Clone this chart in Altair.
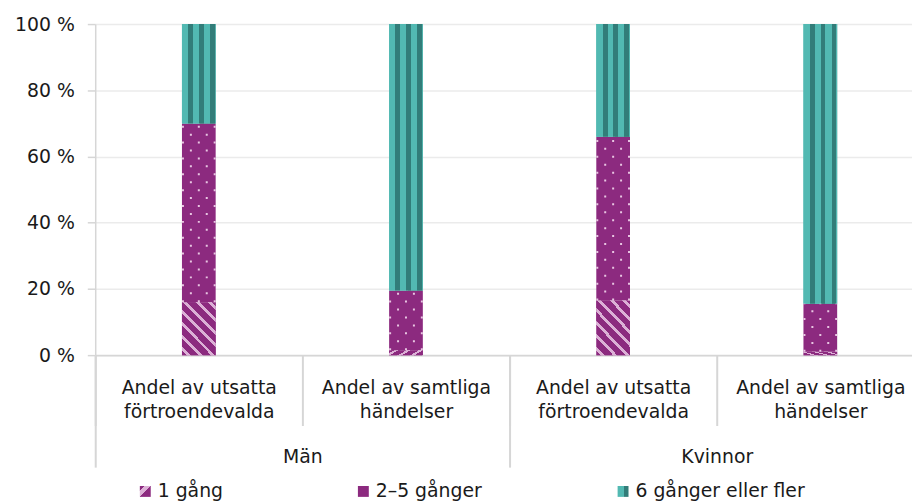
import altair as alt
import pandas as pd

# ---- data ----
groups = ["Män", "Män", "Kvinnor", "Kvinnor"]
categories = [
    "Andel av utsatta\nförtroendevalda",
    "Andel av samtliga\nhändelser",
    "Andel av utsatta\nförtroendevalda",
    "Andel av samtliga\nhändelser",
]
series = ["1 gång", "2–5 gånger", "6 gånger eller fler"]
once = [16, 1.5, 16.5, 1]
two_five = [54, 18, 49.5, 14.5]
six_plus = [30, 80.5, 34, 84.5]

rows = []
for i in range(len(groups)):
    key = groups[i] + "|" + categories[i]
    for j, vals in enumerate([once, two_five, six_plus]):
        rows.append({"key": key, "group": groups[i], "series": series[j],
                     "order": j, "value": vals[i]})
df = pd.DataFrame(rows)
keys = [g + "|" + c for g, c in zip(groups, categories)]
group_domain = list(dict.fromkeys(groups))

# ---- style ----
FONT = "DejaVu Sans"
FS = 19
MAGENTA = "#8c2a7f"
PINK = "#dcb0d6"
TEAL = "#52b9b2"
TEAL_DARK = "#327d79"
DOT = "#e8c6e2"
GRID = "#ebebeb"
AXIS = "#d6d6d6"
BAR = 34
RANGE_MAX = 836

# legend swatch gradients (also base fill under the patterns)
sw_once = (
    "{gradient: 'linear', x1: 0, y1: 0, x2: 1, y2: 1, stops: ["
    f"{{offset: 0, color: '{MAGENTA}'}}, {{offset: 0.2, color: '{MAGENTA}'}},"
    f"{{offset: 0.2, color: '{PINK}'}}, {{offset: 0.5, color: '{PINK}'}},"
    f"{{offset: 0.5, color: '{MAGENTA}'}}, {{offset: 1, color: '{MAGENTA}'}}]}}"
)
sw_six = (
    "{gradient: 'linear', x1: 0, y1: 0, x2: 1, y2: 0, stops: ["
    f"{{offset: 0, color: '{TEAL}'}}, {{offset: 0.55, color: '{TEAL}'}},"
    f"{{offset: 0.55, color: '{TEAL_DARK}'}}, {{offset: 1, color: '{TEAL_DARK}'}}]}}"
)

# diagonal stripe gradient (1 gång)
n_per = 7
diag_stops = []
for k in range(n_per):
    p0 = k / n_per
    a = p0 + 0.36 / n_per
    b = p0 + 0.68 / n_per
    diag_stops += [
        alt.GradientStop(offset=p0, color=MAGENTA),
        alt.GradientStop(offset=a, color=MAGENTA),
        alt.GradientStop(offset=a, color=PINK),
        alt.GradientStop(offset=b, color=PINK),
        alt.GradientStop(offset=b, color=MAGENTA),
    ]
diag_stops.append(alt.GradientStop(offset=1, color=MAGENTA))
diag = alt.LinearGradient(gradient="linear", stops=diag_stops,
                          x1=0, y1=1, x2=0.743, y2=-0.164)

# vertical stripe gradient (6 gånger eller fler)
edges = [0.186, 0.333, 0.51, 0.649, 0.833, 0.972]
vstops = [alt.GradientStop(offset=0, color=TEAL)]
cols = [TEAL, TEAL_DARK]
for idx, e in enumerate(edges):
    vstops.append(alt.GradientStop(offset=e, color=cols[idx % 2]))
    vstops.append(alt.GradientStop(offset=e, color=cols[(idx + 1) % 2]))
vstops.append(alt.GradientStop(offset=1, color=TEAL))
vert = alt.LinearGradient(gradient="linear", stops=vstops, x1=0, y1=0, x2=1, y2=0)

base = alt.Chart(df).transform_stack(
    stack="value", groupby=["key"], as_=["v0", "v1"],
    sort=[alt.SortField("order", order="ascending")]
)

x_enc = alt.X(
    "key:N",
    sort=keys,
    scale=alt.Scale(domain=keys, paddingInner=0, paddingOuter=0, rangeMax=RANGE_MAX),
    axis=alt.Axis(
        title=None, orient="bottom", tickBand="extent", ticks=True, tickSize=71,
        tickColor=AXIS, tickWidth=2, domain=True, domainColor=AXIS, domainWidth=2,
        labelExpr="isString(datum.value) && indexof(datum.value, '|') >= 0 ? split(split(datum.value, '|')[1], '\\n') : ''",
        labelFont=FONT, labelFontSize=FS, labelColor="#1a1a1a",
        labelLineHeight=24, labelPadding=-47, labelAngle=0, grid=False,
    ),
)
y_enc = alt.Y(
    "v0:Q",
    scale=alt.Scale(domain=[0, 100], nice=False),
    axis=alt.Axis(
        title=None, values=[0, 20, 40, 60, 80, 100],
        labelExpr="datum.value + ' %'", labelFont=FONT, labelFontSize=FS,
        labelColor="#1a1a1a", labelPadding=13, tickSize=8, tickColor=AXIS,
        tickWidth=1.5, domain=True, domainColor=AXIS, domainWidth=1.5,
        grid=True, gridColor=GRID, gridWidth=1.5,
    ),
)

bars = base.mark_bar(size=BAR).encode(
    x=x_enc, y=y_enc, y2="v1:Q",
    color=alt.Color(
        "series:N",
        scale=alt.Scale(domain=series,
                        range=[alt.ExprRef(expr=sw_once), MAGENTA, alt.ExprRef(expr=sw_six)]),
        legend=alt.Legend(
            title=None, orient="none", legendX=41, legendY=462,
            direction="horizontal", columns=3, gridAlign="none",
            columnPadding=132, symbolType="square", symbolSize=121,
            symbolStrokeWidth=0, labelFont=FONT, labelFontSize=FS,
            labelColor="#1a1a1a", labelOffset=3, padding=0, labelLimit=400,
        ),
    ),
)

once_pat = base.transform_filter(alt.datum.series == series[0]).mark_bar(
    size=BAR, color=diag
).encode(x=alt.X("key:N", sort=keys), y="v0:Q", y2="v1:Q")

six_pat = base.transform_filter(alt.datum.series == series[2]).mark_bar(
    size=BAR, color=vert
).encode(x=alt.X("key:N", sort=keys), y="v0:Q", y2="v1:Q")

dot_layers = []
for i, off in enumerate([-16, -8, 0, 8, 16]):
    dot_layers.append(
        base.transform_filter(alt.datum.series == series[1]).mark_rule(
            xOffset=off, color=DOT, strokeWidth=2, strokeDash=[2, 14],
            strokeDashOffset=(8 if i % 2 else 0),
        ).encode(x=alt.X("key:N", sort=keys), y="v0:Q", y2="v1:Q")
    )

main = alt.layer(bars, once_pat, six_pat, *dot_layers)

group_axis = alt.Chart(df).mark_rule(opacity=0).encode(
    x=alt.X(
        "group:N",
        sort=group_domain,
        scale=alt.Scale(domain=group_domain, paddingInner=0, paddingOuter=0, rangeMax=RANGE_MAX),
        axis=alt.Axis(
            title=None, orient="bottom", tickBand="extent", ticks=True, tickSize=113,
            tickColor=AXIS, tickWidth=2, domain=False, labelFont=FONT,
            labelFontSize=FS, labelColor="#1a1a1a", labelPadding=-20,
            labelAngle=0, grid=False,
        ),
    )
)

chart = alt.layer(main, group_axis).resolve_scale(x="independent").properties(
    width=824, height=334,
    autosize=alt.AutoSizeParams(type="none"),
    padding={"left": 88, "top": 14, "right": 0, "bottom": 150},
).configure_view(strokeWidth=0)

chart.save("out.html", embed_options={"renderer": "svg", "actions": False})
